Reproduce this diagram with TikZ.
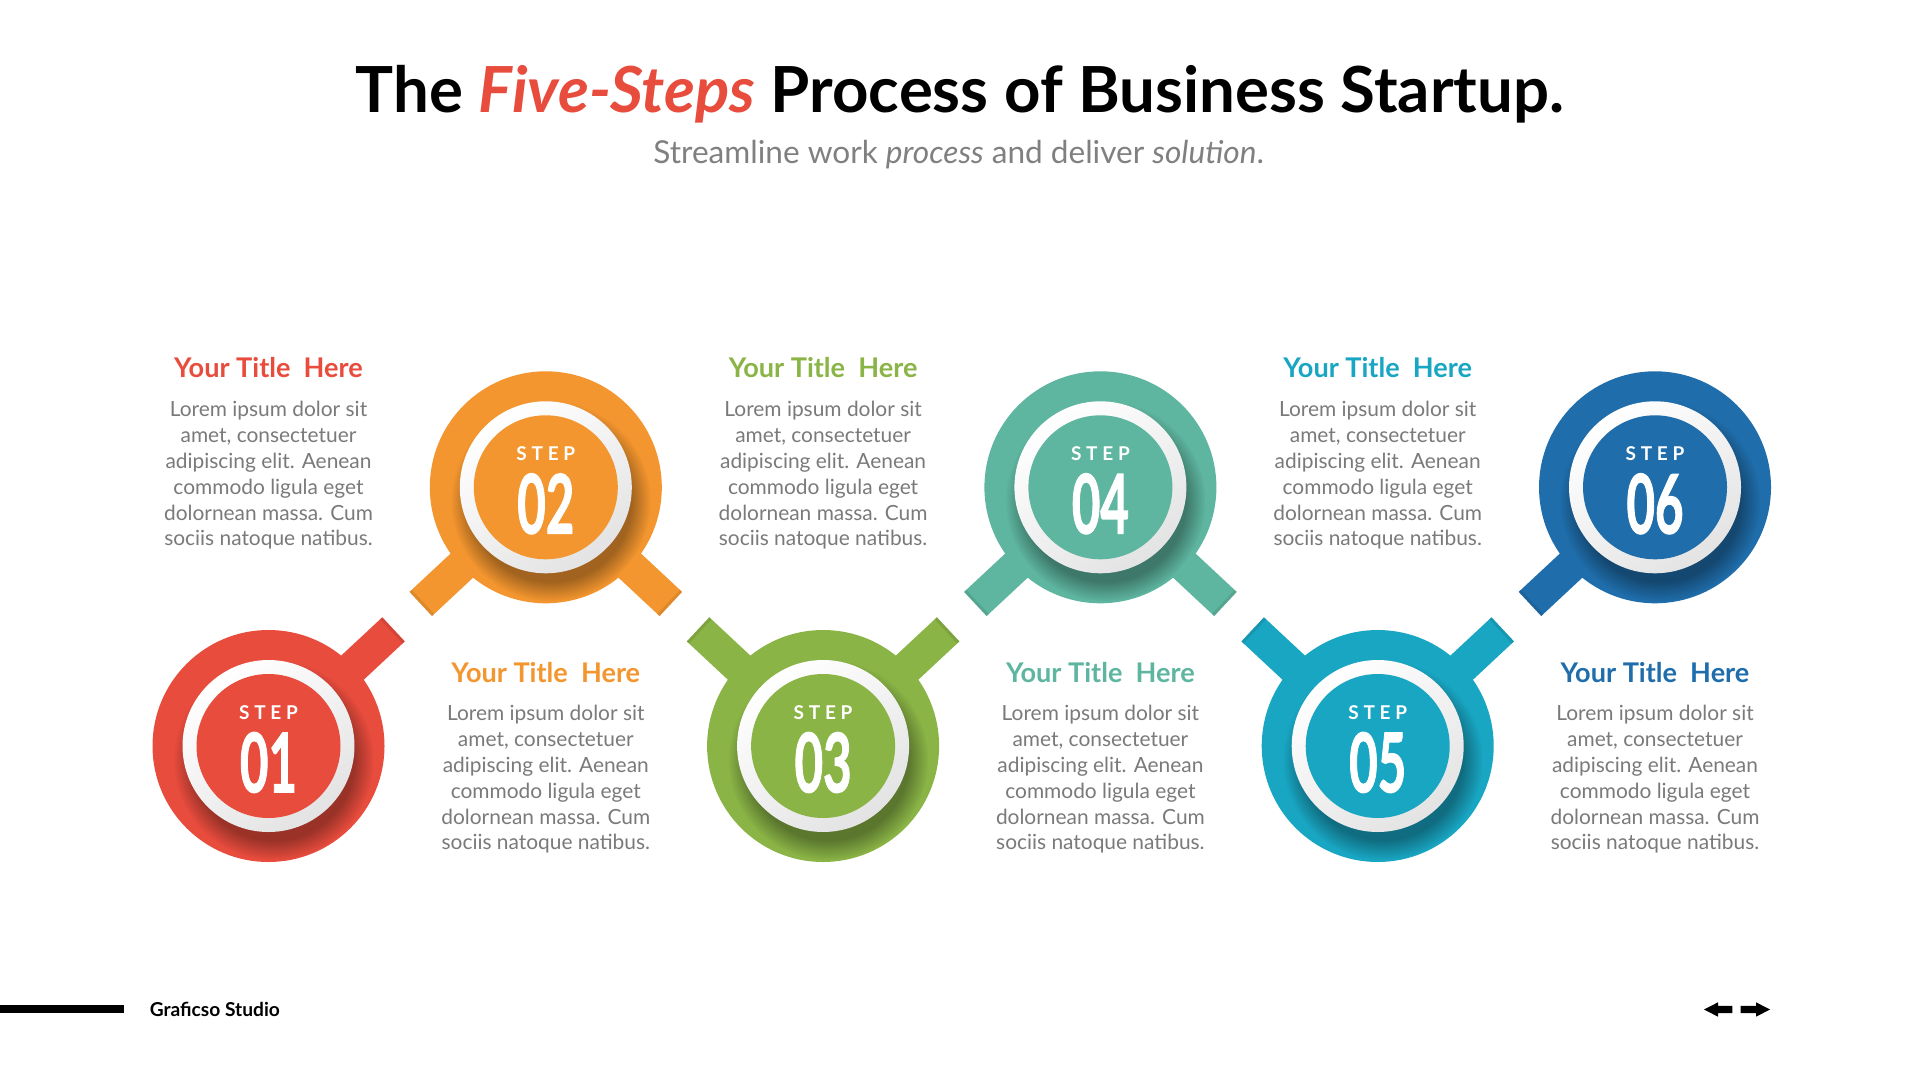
\documentclass[tikz,border=0pt]{standalone}
\usepackage{fontspec}
\setmainfont{Lato}
\usetikzlibrary{calc,fadings}
\definecolor{cRed}{HTML}{E84C3D}
\definecolor{cOrange}{HTML}{F4962F}
\definecolor{cGreen}{HTML}{8AB446}
\definecolor{cTeal}{HTML}{5EB6A0}
\definecolor{cCyan}{HTML}{19A6C3}
\definecolor{cBlue}{HTML}{1F6DAA}
\definecolor{bodygray}{HTML}{7A7A7A}
\definecolor{subgray}{HTML}{808080}
\tikzset{
  stem/.style={line width=16.5pt, line cap=butt},
  steptxt/.style={text=white, inner sep=0pt, font=\fontsize{9.5pt}{10pt}\selectfont\bfseries\addfontfeature{LetterSpace=25}},
  numtxt/.style={text=white, inner sep=0pt, font=\fontsize{41pt}{42pt}\selectfont\bfseries\addfontfeature{FakeBold=1.6}},
  ttl/.style={inner sep=0pt, font=\fontsize{13.55pt}{14pt}\selectfont\bfseries},
  body/.style={inner sep=0pt, align=center, text=bodygray, font=\fontsize{10.45pt}{12.9pt}\selectfont},
}
\newcommand{\lorem}{Lorem ipsum dolor sit\\amet, consectetuer\\adipiscing elit. Aenean\\commodo ligula eget\\dolornean massa. Cum\\sociis natoque natibus.}
\begin{document}
\begin{tikzpicture}[x=0.5pt,y=-0.5pt]
\useasboundingbox (0,0) rectangle (1920,1080);
\fill[white] (0,0) rectangle (1920,1080);
% centres
\coordinate (c1) at (268.5,746);
\coordinate (c2) at (545.8,487.3);
\coordinate (c3) at (823.1,746);
\coordinate (c4) at (1100.4,487.3);
\coordinate (c5) at (1377.7,746);
\coordinate (c6) at (1655,487.3);
% header
\node[anchor=base, inner sep=0pt, font=\fontsize{34pt}{40pt}\selectfont\bfseries] (title) at (960,112.7)
  {\resizebox{604pt}{!}{The \textcolor{cRed}{\itshape Five-Steps} Process of Business Startup.}};
\node[anchor=base, inner sep=0pt, text=subgray, font=\fontsize{18pt}{20pt}\selectfont] (subtitle) at (958.7,164)
  {\resizebox{305.3pt}{!}{Streamline work \textit{process} and deliver \textit{solution}.}};
% stems
\foreach \a/\b/\ca/\cb in {1/2/cRed/cOrange, 2/3/cOrange/cGreen, 3/4/cGreen/cTeal, 4/5/cTeal/cCyan, 5/6/cCyan/cBlue}{
  \draw[stem, \ca] (c\a) -- ($(c\a)!85.5pt!(c\b)$) coordinate (t\a\b);
  \draw[stem, \cb] (c\b) -- ($(c\b)!85.5pt!(c\a)$) coordinate (t\b\a);
  \draw[stem, \ca!70!black, opacity=0.3] ($(c\a)!84pt!(c\b)$) -- (t\a\b);
  \draw[stem, \cb!70!black, opacity=0.3] ($(c\b)!84pt!(c\a)$) -- (t\b\a);
}
% circles
\foreach \i/\col/\num in {1/cRed/01, 2/cOrange/02, 3/cGreen/03, 4/cTeal/04, 5/cCyan/05, 6/cBlue/06}{
  \fill[\col] (c\i) circle (116);
  \begin{scope}
    \clip (c\i) circle (116);
    \fill[\col!55!black, path fading=circle with fuzzy edge 20 percent, fill opacity=0.75] ($(c\i)+(5,14)$) circle (100);
  \end{scope}
  \shade[top color=white, bottom color=black!11, shading angle=35] (c\i) circle (86);
  \fill[\col] (c\i) circle (72);
  \node[steptxt] (s\i) at ($(c\i)+(0,-33.3)$) {STEP};
  \node[numtxt] (n\i) at ($(c\i)+(0,16.5)$) {\scalebox{0.6}[1]{\num}};
}
% texts
\foreach \i/\col/\yt/\yb in {1/cRed/368/475.5, 3/cGreen/368/475.5, 5/cCyan/368/475.5, 2/cOrange/673/779.5, 4/cTeal/673/779.5, 6/cBlue/673/779.5}{
  \node[ttl, text=\col] (h\i) at ($(c\i|-0,\yt)$) {Your Title~ Here};
  \node[body] (b\i) at ($(c\i|-0,\yb)$) {\lorem};
}
% footer
\fill[black] (0,1005.4) rectangle (123.7,1012.7);
\node[anchor=west, inner sep=0pt, font=\fontsize{9.4pt}{10pt}\selectfont\bfseries] (studio) at (149.4,1009)
  {\resizebox{65pt}{!}{Graficso Studio}};
\fill[black] (1704,1009.5) -- (1718,1002.3) -- (1718,1005.8) -- (1732.3,1005.8) -- (1732.3,1013.2) -- (1718,1013.2) -- (1718,1016.7) -- cycle;
\fill[black] (1770,1009.5) -- (1756,1002.3) -- (1756,1005.8) -- (1740.7,1005.8) -- (1740.7,1013.2) -- (1756,1013.2) -- (1756,1016.7) -- cycle;
\end{tikzpicture}
\end{document}
